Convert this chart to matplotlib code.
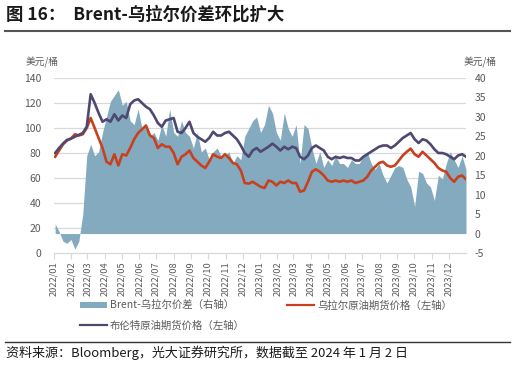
import matplotlib
matplotlib.use("Agg")
import matplotlib.pyplot as plt
import matplotlib.transforms as mtransforms
from matplotlib.lines import Line2D
from matplotlib.patches import Patch
import pandas as pd

plt.rcParams['font.family'] = ['Noto Sans CJK SC', 'DejaVu Sans']

# ---- data (weekly readings) ----
start_date = "2022-01-03"
n_weeks = 105

brent = [80, 84, 87.5, 90.5, 91.5, 93, 94.5, 96, 101, 127,
         120, 112, 105, 107, 105, 111, 106, 110, 108, 119,
         122, 123, 120, 117, 115, 110, 104, 101, 106, 107,
         108, 97, 96, 100, 105, 96, 93, 91, 89, 92,
         97, 94, 94, 96, 97, 94, 91, 86, 80, 77,
         82, 84, 81, 83, 85, 87.5, 85, 82, 85, 83,
         85, 84, 77, 75, 78, 84, 86, 84, 82, 77,
         75, 77, 76, 77, 76, 76, 74, 74, 77, 79,
         81, 83, 85, 86, 86, 84, 86, 89, 92, 94,
         96, 91, 88, 91, 90, 87, 83, 80, 80, 79,
         77, 75, 78, 79, 77]

urals = [77, 82, 87, 90, 91.5, 95, 94, 95, 100, 108,
         100, 92, 84, 73, 71, 79, 70, 79, 78, 84,
         91, 96, 99, 102, 94, 92, 84, 87, 85, 85,
         80, 71, 77, 79, 82, 76, 73, 70, 68, 73,
         79, 77, 76, 79, 76, 72, 71, 66, 56, 55.5,
         57, 55, 53, 52, 58, 57, 54, 57, 56, 58,
         56, 56, 49, 50, 57, 65, 67, 65, 62, 58,
         57, 58, 57, 58, 57, 58, 56, 57, 58, 61,
         66, 69, 72, 73, 70, 69, 70, 74, 78, 81,
         83.5, 79, 77, 81, 78, 75, 72, 68, 66, 65,
         60, 57, 61, 62, 59]

spread = [2.5, 0.5, -2, -2.5, -1.5, -4, -2, 5, 20, 23,
          20, 21, 26, 30, 34, 35.5, 37, 33, 34, 29,
          28, 32, 27, 28, 25, 26, 24, 28, 25, 32,
          26, 25, 29, 26, 25, 22, 26, 21, 22, 19,
          21, 22, 20, 20, 21, 18, 20, 19, 25, 27,
          29, 30, 26, 28, 33, 31, 26, 24, 31, 27,
          25, 28, 18, 28, 27, 22, 18, 21, 17, 19,
          17.5, 20, 18, 18, 17, 19, 18, 18, 20, 21,
          18, 16.5, 18, 15, 13, 15, 17, 17.5, 17, 14,
          12, 7, 16, 15.5, 13, 12, 8.5, 15, 14, 18,
          21, 19, 17, 20, 16.5]

x_labels = ["2022/01", "2022/02", "2022/03", "2022/04", "2022/05", "2022/06",
            "2022/07", "2022/08", "2022/09", "2022/10", "2022/11", "2022/12",
            "2023/01", "2023/02", "2023/03", "2023/04", "2023/05", "2023/06",
            "2023/07", "2023/08", "2023/09", "2023/10", "2023/11", "2023/12"]

left_ticks = [0, 20, 40, 60, 80, 100, 120, 140]
right_ticks = [-5, 0, 5, 10, 15, 20, 25, 30, 35, 40]

dates = pd.date_range(start_date, periods=n_weeks, freq="7D")
tick_dates = pd.to_datetime([s.replace("/", "-") + "-01" for s in x_labels])

# ---- style ----
c_area = "#84AABF"
c_red = "#C8411F"
c_purple = "#4E4872"
c_grid = "#D9D9D9"
c_text = "#595959"

W, H = 516, 365
fig = plt.figure(figsize=(W / 100, H / 100), dpi=100)

L, R, B, T = 54, 466, 253, 78
axL = fig.add_axes([L / W, 1 - B / H, (R - L) / W, (B - T) / H])
axR = axL.twinx()
axL.set_zorder(axR.get_zorder() + 1)
axL.patch.set_visible(False)

# area on right axis
axR.fill_between(dates, spread, 0, color=c_area, linewidth=0, zorder=2)
axR.set_ylim(-5, 40)
axR.set_yticks(right_ticks)
axR.set_yticklabels([str(v) for v in right_ticks])

# gridlines in left-axis units, drawn behind the area
trans = mtransforms.blended_transform_factory(axR.transAxes, axL.transData)
for v in left_ticks[1:]:
    axR.add_line(Line2D([0, 1], [v, v], transform=trans, color=c_grid,
                        linewidth=0.9, zorder=1))

# lines on left axis
axL.plot(dates, urals, color=c_red, linewidth=1.9, zorder=3)
axL.plot(dates, brent, color=c_purple, linewidth=1.9, zorder=4)
axL.set_ylim(0, 140)
axL.set_yticks(left_ticks)
axL.set_yticklabels([str(v) for v in left_ticks])

xmin, xmax = pd.Timestamp("2022-01-01"), pd.Timestamp("2024-01-01")
for a in (axL, axR):
    a.set_xlim(xmin, xmax)
    for s in a.spines.values():
        s.set_visible(False)

axL.spines['bottom'].set_visible(True)
axL.spines['bottom'].set_color(c_grid)
axL.spines['bottom'].set_linewidth(0.9)
axL.set_xticks(tick_dates)
axL.set_xticklabels(x_labels, rotation=90, fontsize=6.7, color=c_text)
axL.tick_params(axis='x', length=4, width=0.8, color=c_grid, pad=2)
axR.tick_params(axis='x', length=0, labelbottom=False)

axL.tick_params(axis='y', length=0, pad=9, labelsize=7.5, labelcolor=c_text)
axR.tick_params(axis='y', length=0, pad=6, labelsize=7.5, labelcolor=c_text)

# units
fig.text(42 / W, 1 - 62 / H, "美元/桶", fontsize=7, color=c_text, ha="center", va="center")
fig.text(480 / W, 1 - 62 / H, "美元/桶", fontsize=7, color=c_text, ha="center", va="center")

# title
fig.text(6 / W, 1 - 15 / H, "图 16：  Brent-乌拉尔价差环比扩大", fontsize=12.5,
         fontweight="bold", color="#1a1a1a", ha="left", va="center")
fig.add_artist(Line2D([5 / W, 510 / W], [1 - 31 / H, 1 - 31 / H], transform=fig.transFigure,
                      color="#555555", linewidth=1.5))

# legend
handles = [Patch(facecolor=c_area, edgecolor="none"),
           Line2D([], [], color=c_purple, linewidth=1.6),
           Line2D([], [], color=c_red, linewidth=1.6)]
labels = ["Brent-乌拉尔价差（右轴）", "布伦特原油期货价格（左轴）", "乌拉尔原油期货价格（左轴）"]
leg = fig.legend(handles, labels, ncol=2, loc="upper left",
                 bbox_to_anchor=(80 / W, 1 - 300 / H), frameon=False,
                 fontsize=7.5, labelcolor=c_text, handlelength=2.6, handleheight=0.5,
                 handletextpad=0.25, columnspacing=4.1, labelspacing=0.95,
                 borderaxespad=0, borderpad=0)

# footer
fig.add_artist(Line2D([5 / W, 510 / W], [1 - 342 / H, 1 - 342 / H], transform=fig.transFigure,
                      color="#333333", linewidth=1.0))
fig.text(6 / W, 1 - 353 / H, "资料来源：Bloomberg，光大证券研究所，数据截至 2024 年 1 月 2 日",
         fontsize=9.4, color="#1a1a1a", ha="left", va="center")

fig.savefig("out.png", dpi=100)
